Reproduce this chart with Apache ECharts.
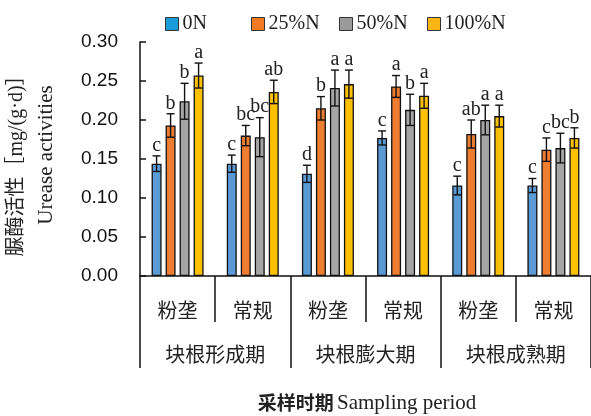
<!DOCTYPE html>
<html>
<head>
<meta charset="utf-8">
<style>
  html, body { margin: 0; padding: 0; background: #fff; }
  #chart { width: 591px; height: 416px; }
</style>
<script src="https://cdn.jsdelivr.net/npm/echarts@6/dist/echarts.min.js"></script>
</head>
<body>
<div id="chart"></div>
<script>
// Treatment combinations along the x axis: tillage method within each growth stage
const categories = ['粉垄', '常规', '粉垄', '常规', '粉垄', '常规'];
const stages = ['块根形成期', '块根膨大期', '块根成熟期'];
const seriesNames = ['0N', '25%N', '50%N', '100%N'];

// Urease activity, mg/(g·d)
const n0   = [0.144, 0.144, 0.131, 0.177, 0.116, 0.116];
const n25  = [0.193, 0.180, 0.215, 0.243, 0.182, 0.162];
const n50  = [0.224, 0.178, 0.241, 0.213, 0.200, 0.164];
const n100 = [0.257, 0.236, 0.246, 0.231, 0.205, 0.177];

// Standard errors
const err0   = [0.010, 0.011, 0.011, 0.009, 0.012, 0.009];
const err25  = [0.015, 0.013, 0.015, 0.014, 0.018, 0.015];
const err50  = [0.023, 0.025, 0.023, 0.020, 0.019, 0.019];
const err100 = [0.016, 0.015, 0.018, 0.016, 0.014, 0.013];

// Significance letters
const let0   = ['c', 'c', 'd', 'c', 'c', 'c'];
const let25  = ['b', 'bc', 'b', 'a', 'ab', 'c'];
const let50  = ['b', 'bc', 'a', 'b', 'a', 'bc'];
const let100 = ['a', 'ab', 'a', 'a', 'a', 'b'];

const yTicks = [0, 0.05, 0.10, 0.15, 0.20, 0.25, 0.30];

const values = [n0, n25, n50, n100];
const errors = [err0, err25, err50, err100];
const letters = [let0, let25, let50, let100];
const barColors = ['#5B9BD5', '#ED7D31', '#A5A5A5', '#FFC000'];
const legendColors = ['#1B9BD7', '#F37A22', '#9A9A9A', '#FDB515'];
const legendLeft = [160, 246, 334, 422];

const BAR_W = 10;
const BAR_GAP = 4;
const serif = '"Liberation Serif", "Times New Roman", "Noto Sans CJK SC", serif';
const cjk = '"Noto Sans CJK SC", "Liberation Serif", serif';

const chart = echarts.init(document.getElementById('chart'), null, { renderer: 'canvas' });

const series = [];
seriesNames.forEach((name, s) => {
  series.push({
    name: name,
    type: 'bar',
    xAxisIndex: 0,
    barWidth: BAR_W,
    barGap: (BAR_GAP / BAR_W * 100) + '%',
    itemStyle: { color: barColors[s], borderColor: '#111', borderWidth: 1.3 },
    data: values[s],
    z: 2
  });
});

// Error bars and letters, placed over the matching bar of each series
seriesNames.forEach((name, s) => {
  const total = seriesNames.length * BAR_W + (seriesNames.length - 1) * BAR_GAP;
  const offset = -total / 2 + BAR_W / 2 + s * (BAR_W + BAR_GAP);
  series.push({
    type: 'custom',
    xAxisIndex: 0,
    silent: true,
    z: 5,
    encode: { x: 0, y: 1 },
    data: values[s].map((v, i) => [i, v, errors[s][i]]),
    renderItem: function (params, api) {
      const i = api.value(0);
      const v = api.value(1);
      const e = api.value(2);
      const hi = api.coord([i, v + e]);
      const lo = api.coord([i, v - e]);
      const x = hi[0] + offset;
      const cap = 4;
      const st = { stroke: '#111', lineWidth: 1.4 };
      return {
        type: 'group',
        children: [
          { type: 'line', shape: { x1: x, y1: hi[1], x2: x, y2: lo[1] }, style: st },
          { type: 'line', shape: { x1: x - cap, y1: hi[1], x2: x + cap, y2: hi[1] }, style: st },
          { type: 'line', shape: { x1: x - cap, y1: lo[1], x2: x + cap, y2: lo[1] }, style: st },
          {
            type: 'text',
            style: {
              x: x, y: hi[1] - 0.5,
              text: letters[s][params.dataIndex],
              fill: '#222',
              font: '20px ' + serif,
              align: 'center',
              verticalAlign: 'bottom'
            }
          }
        ]
      };
    }
  });
});

// One legend per series so the entries sit in evenly spaced slots
const legends = seriesNames.map((n, s) => ({
  left: legendLeft[s],
  top: 9,
  itemWidth: 13,
  itemHeight: 13,
  itemGap: 0,
  icon: 'rect',
  selectedMode: false,
  textStyle: { fontFamily: serif, fontSize: 20, color: '#222', padding: [0, 0, 0, -1] },
  data: [{ name: n, itemStyle: { color: legendColors[s], borderColor: '#333', borderWidth: 1 } }]
}));

const option = {
  animation: false,
  backgroundColor: '#fff',
  grid: { left: 140, top: 42, width: 453, height: 234, containLabel: false },
  legend: legends,
  xAxis: [
    {
      type: 'category',
      position: 'bottom',
      data: categories,
      axisLine: { lineStyle: { color: '#111', width: 1.5 } },
      axisTick: { show: true, interval: 0, length: 46, lineStyle: { color: '#111', width: 1.5 } },
      axisLabel: { interval: 0, margin: 24, fontFamily: cjk, fontSize: 20, color: '#222' }
    },
    {
      type: 'category',
      position: 'bottom',
      data: stages,
      axisLine: { show: false },
      axisTick: { show: true, interval: 0, length: 92, lineStyle: { color: '#111', width: 1.5 } },
      axisLabel: { interval: 0, margin: 68, fontFamily: cjk, fontSize: 20, color: '#222' }
    }
  ],
  yAxis: {
    type: 'value',
    min: yTicks[0],
    max: yTicks[yTicks.length - 1],
    interval: 0.05,
    axisLine: { show: true, lineStyle: { color: '#111', width: 1.5 } },
    axisTick: { show: true, inside: true, length: 6, lineStyle: { color: '#111', width: 1.5 } },
    splitLine: { show: false },
    axisLabel: {
      margin: 22,
      fontFamily: '"Liberation Sans", Arial, sans-serif',
      fontSize: 19,
      color: '#111',
      formatter: v => v.toFixed(2)
    }
  },
  graphic: [
    {
      type: 'text',
      x: 17, y: 161,
      rotation: Math.PI / 2,
      style: {
        text: '脲酶活性［mg/(g·d)］',
        font: '20px ' + serif,
        fill: '#222',
        align: 'center',
        verticalAlign: 'middle'
      }
    },
    {
      type: 'text',
      x: 46, y: 155,
      rotation: Math.PI / 2,
      style: {
        text: 'Urease activities',
        font: '21px ' + serif,
        fill: '#222',
        align: 'center',
        verticalAlign: 'middle'
      }
    },
    {
      type: 'text',
      x: 367, y: 403,
      style: {
        text: '{a|采样时期} {b|Sampling period}',
        align: 'center',
        verticalAlign: 'middle',
        rich: {
          a: { fontFamily: cjk, fontWeight: 'bold', fontSize: 19, fill: '#222', color: '#222' },
          b: { fontFamily: serif, fontSize: 21, fill: '#222', color: '#222' }
        }
      }
    }
  ],
  series: series
};

chart.setOption(option);
</script>
</body>
</html>
